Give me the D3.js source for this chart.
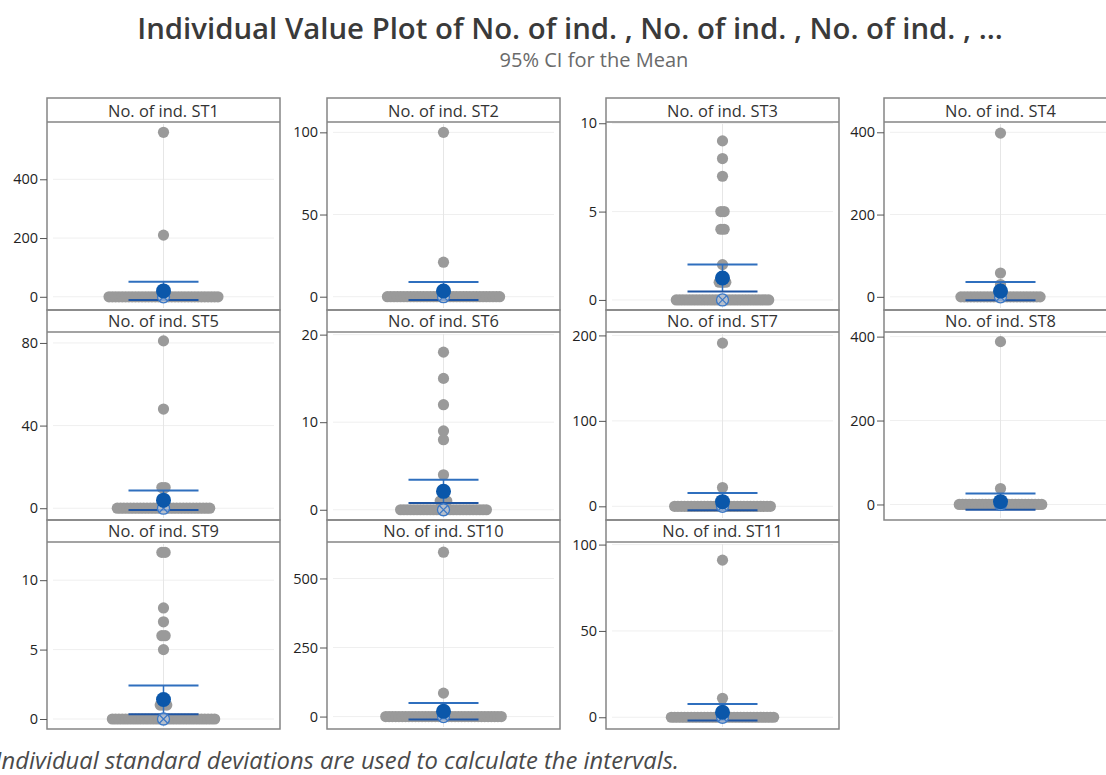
<!DOCTYPE html>
<html>
<head>
<meta charset="utf-8">
<script src="https://cdn.jsdelivr.net/npm/d3@7"></script>
<style>
  html, body { margin: 0; padding: 0; background: #ffffff; }
  svg { display: block; }
  text { font-family: "Open Sans", "Noto Sans", sans-serif; }
</style>
</head>
<body>
<svg id="chart" width="1106" height="775"></svg>
<script>
// ---- data ---------------------------------------------------------------
const panelNames = [
  "No. of ind. ST1", "No. of ind. ST2", "No. of ind. ST3", "No. of ind. ST4",
  "No. of ind. ST5", "No. of ind. ST6", "No. of ind. ST7", "No. of ind. ST8",
  "No. of ind. ST9", "No. of ind. ST10", "No. of ind. ST11"
];

// non-zero individual values per station
const nonZeroValues = [
  [560, 210],
  [100, 21],
  [9, 8, 7, 5, 5, 4, 4, 2, 1, 1, 1],
  [398, 58, 30],
  [81, 48, 10, 10],
  [18, 15, 12, 9, 8, 4, 1, 1, 1],
  [191, 22],
  [388, 38],
  [12, 12, 8, 7, 6, 6, 5, 1, 1, 1],
  [595, 85],
  [91, 11]
];

// number of zero counts per station
const zeroCounts = [34, 35, 29, 25, 29, 27, 30, 26, 32, 36, 32];

// mean and 95% confidence interval per station
const means  = [20, 3.5, 1.24, 14, 3.9, 2.1, 5.5, 6.7, 1.4, 19, 2.9];
const ciLow  = [-11, -2, 0.47, -8, -0.8, 0.76, -4.7, -12.6, 0.35, -11, -1.9];
const ciHigh = [51, 9, 2.01, 36, 8.6, 3.44, 15.7, 26, 2.42, 49, 7.7];
const medians = [0, 0, 0, 0, 0, 0, 0, 0, 0, 0, 0];

// y-axis ranges and ticks per station
const yMin = [-45, -8.1, -0.57, -32, -5.7, -1.17, -16, -37, -0.72, -45, -6.8];
const yMax = [595, 106.3, 10.07, 425, 85.3, 20.3, 204, 411, 12.75, 632, 101.5];
const tickValues = [
  [0, 200, 400], [0, 50, 100], [0, 5, 10], [0, 200, 400],
  [0, 40, 80], [0, 10, 20], [0, 100, 200], [0, 200, 400],
  [0, 5, 10], [0, 250, 500], [0, 50, 100]
];

const titleText = "Individual Value Plot of No. of ind. , No. of ind. , No. of ind. , ...";
const subtitleText = "95% CI for the Mean";
const footnoteText = "Individual standard deviations are used to calculate the intervals.";

// ---- layout -------------------------------------------------------------
const svg = d3.select("#chart");
const colX = [47, 327, 606, 884];
const panelW = 233;
const rowTop = [98, 310, 520];
const rowHeaderBottom = [122, 332, 542];
const rowBottom = [310, 520, 729];

const grayDot = "#9a9a9a";
const blueMean = "#0b57aa";
const blueCI = "#2f6fbe";
const frameColor = "#858585";
const dotR = 5.6;
const tieStep = 3.3;

svg.append("rect").attr("width", 1106).attr("height", 775).attr("fill", "#ffffff");

// scale a text so that it spans the given width
function fitText(sel, baseSize, targetWidth) {
  sel.style("font-size", baseSize + "px");
  const len = sel.node().getComputedTextLength();
  const size = baseSize * targetWidth / len;
  sel.style("font-size", size + "px");
  return size;
}

const title = svg.append("text")
  .attr("x", 570).attr("y", 39)
  .attr("text-anchor", "middle")
  .attr("font-weight", 600)
  .attr("fill", "#3a3a3a")
  .text(titleText);
fitText(title, 27, 866);

const subtitle = svg.append("text")
  .attr("x", 594).attr("y", 67)
  .attr("text-anchor", "middle")
  .attr("fill", "#6a6a6a")
  .text(subtitleText);
fitText(subtitle, 20, 189);

// footnote: size from the visible part; the leading capital runs off the left edge
const measure = svg.append("text")
  .attr("font-style", "italic")
  .text(footnoteText.slice(1));
const footSize = fitText(measure, 18, 678);
measure.remove();
svg.append("text")
  .attr("x", 679).attr("y", 769)
  .attr("text-anchor", "end")
  .attr("font-style", "italic")
  .style("font-size", footSize + "px")
  .attr("fill", "#4a4a4a")
  .text(footnoteText);

// header label size
const probe = svg.append("text").text(panelNames[0]);
const headerSize = fitText(probe, 13, 111);
probe.remove();

panelNames.forEach((name, i) => {
  const col = i % 4, row = Math.floor(i / 4);
  const x0 = colX[col], x1 = x0 + panelW;
  const cx = (x0 + x1) / 2;
  const top = rowTop[row], hb = rowHeaderBottom[row], bottom = rowBottom[row];

  const y = d3.scaleLinear().domain([yMin[i], yMax[i]]).range([bottom, hb]);

  const g = svg.append("g");
  const clipId = "clip" + i;
  g.append("clipPath").attr("id", clipId)
    .append("rect").attr("x", x0).attr("y", hb).attr("width", panelW).attr("height", bottom - hb);

  g.append("rect").attr("x", x0).attr("y", hb).attr("width", panelW).attr("height", bottom - hb)
    .attr("fill", "#ffffff");

  // gridlines
  g.append("g").selectAll("line").data(tickValues[i]).join("line")
    .attr("x1", x0 + 6).attr("x2", x1 - 6)
    .attr("y1", d => y(d)).attr("y2", d => y(d))
    .attr("stroke", "#efefef").attr("stroke-width", 1);
  g.append("line")
    .attr("x1", cx).attr("x2", cx).attr("y1", hb + 2).attr("y2", bottom - 2)
    .attr("stroke", "#e6e6e6").attr("stroke-width", 1);

  // individual values; tied values are spread horizontally
  const values = nonZeroValues[i].concat(d3.range(zeroCounts[i]).map(() => 0));
  const groups = d3.rollups(values, v => v.length, d => d);
  const pts = [];
  groups.forEach(([v, n]) => {
    for (let k = 0; k < n; k++) pts.push({ v, off: (k - (n - 1) / 2) * tieStep });
  });
  const plot = g.append("g").attr("clip-path", `url(#${clipId})`);
  plot.selectAll("circle.pt").data(pts).join("circle")
    .attr("class", "pt")
    .attr("cx", d => cx + d.off).attr("cy", d => y(d.v))
    .attr("r", dotR).attr("fill", grayDot);

  // confidence interval
  const capHalf = 35;
  plot.append("line")
    .attr("x1", cx).attr("x2", cx).attr("y1", y(ciLow[i])).attr("y2", y(ciHigh[i]))
    .attr("stroke", blueCI).attr("stroke-width", 1.5);
  plot.selectAll("line.cap").data([ciLow[i], ciHigh[i]]).join("line")
    .attr("class", "cap")
    .attr("x1", cx - capHalf).attr("x2", cx + capHalf)
    .attr("y1", d => y(d)).attr("y2", d => y(d))
    .attr("stroke", (d, k) => k === 0 ? "#1f55a3" : blueCI).attr("stroke-width", 2);

  // median symbol (circle with cross)
  const my = y(medians[i]);
  const mr = 6;
  const med = plot.append("g").attr("transform", `translate(${cx},${my})`);
  med.append("circle").attr("r", mr).attr("fill", "#c9d8ee").attr("fill-opacity", 0.6)
    .attr("stroke", "#3b78c6").attr("stroke-width", 1.3);
  const dd = mr * Math.SQRT1_2;
  med.append("path").attr("d", `M${-dd},${-dd}L${dd},${dd}M${-dd},${dd}L${dd},${-dd}`)
    .attr("stroke", "#3b78c6").attr("stroke-width", 1.2);

  // mean
  plot.append("circle").attr("cx", cx).attr("cy", y(means[i])).attr("r", 7.5)
    .attr("fill", blueMean);

  // frame and header
  g.append("rect").attr("x", x0).attr("y", top).attr("width", panelW).attr("height", bottom - top)
    .attr("fill", "none").attr("stroke", frameColor).attr("stroke-width", 1.5);
  g.append("line").attr("x1", x0).attr("x2", x1).attr("y1", hb).attr("y2", hb)
    .attr("stroke", frameColor).attr("stroke-width", 1.5);
  g.append("text")
    .attr("x", cx).attr("y", hb - 5)
    .attr("text-anchor", "middle")
    .style("font-size", headerSize + "px")
    .attr("fill", "#333333")
    .text(name);

  // y axis
  const axis = d3.axisLeft(y).tickValues(tickValues[i]).tickSize(7).tickPadding(2)
    .tickFormat(d3.format("d"));
  const ag = g.append("g").attr("transform", `translate(${x0},0)`).call(axis);
  ag.select(".domain").remove();
  ag.selectAll(".tick line").attr("stroke", "#555555");
  ag.selectAll(".tick text")
    .style("font-size", "14.5px")
    .style("font-family", "'Open Sans', 'Noto Sans', sans-serif")
    .attr("fill", "#222222");
});
</script>
</body>
</html>
